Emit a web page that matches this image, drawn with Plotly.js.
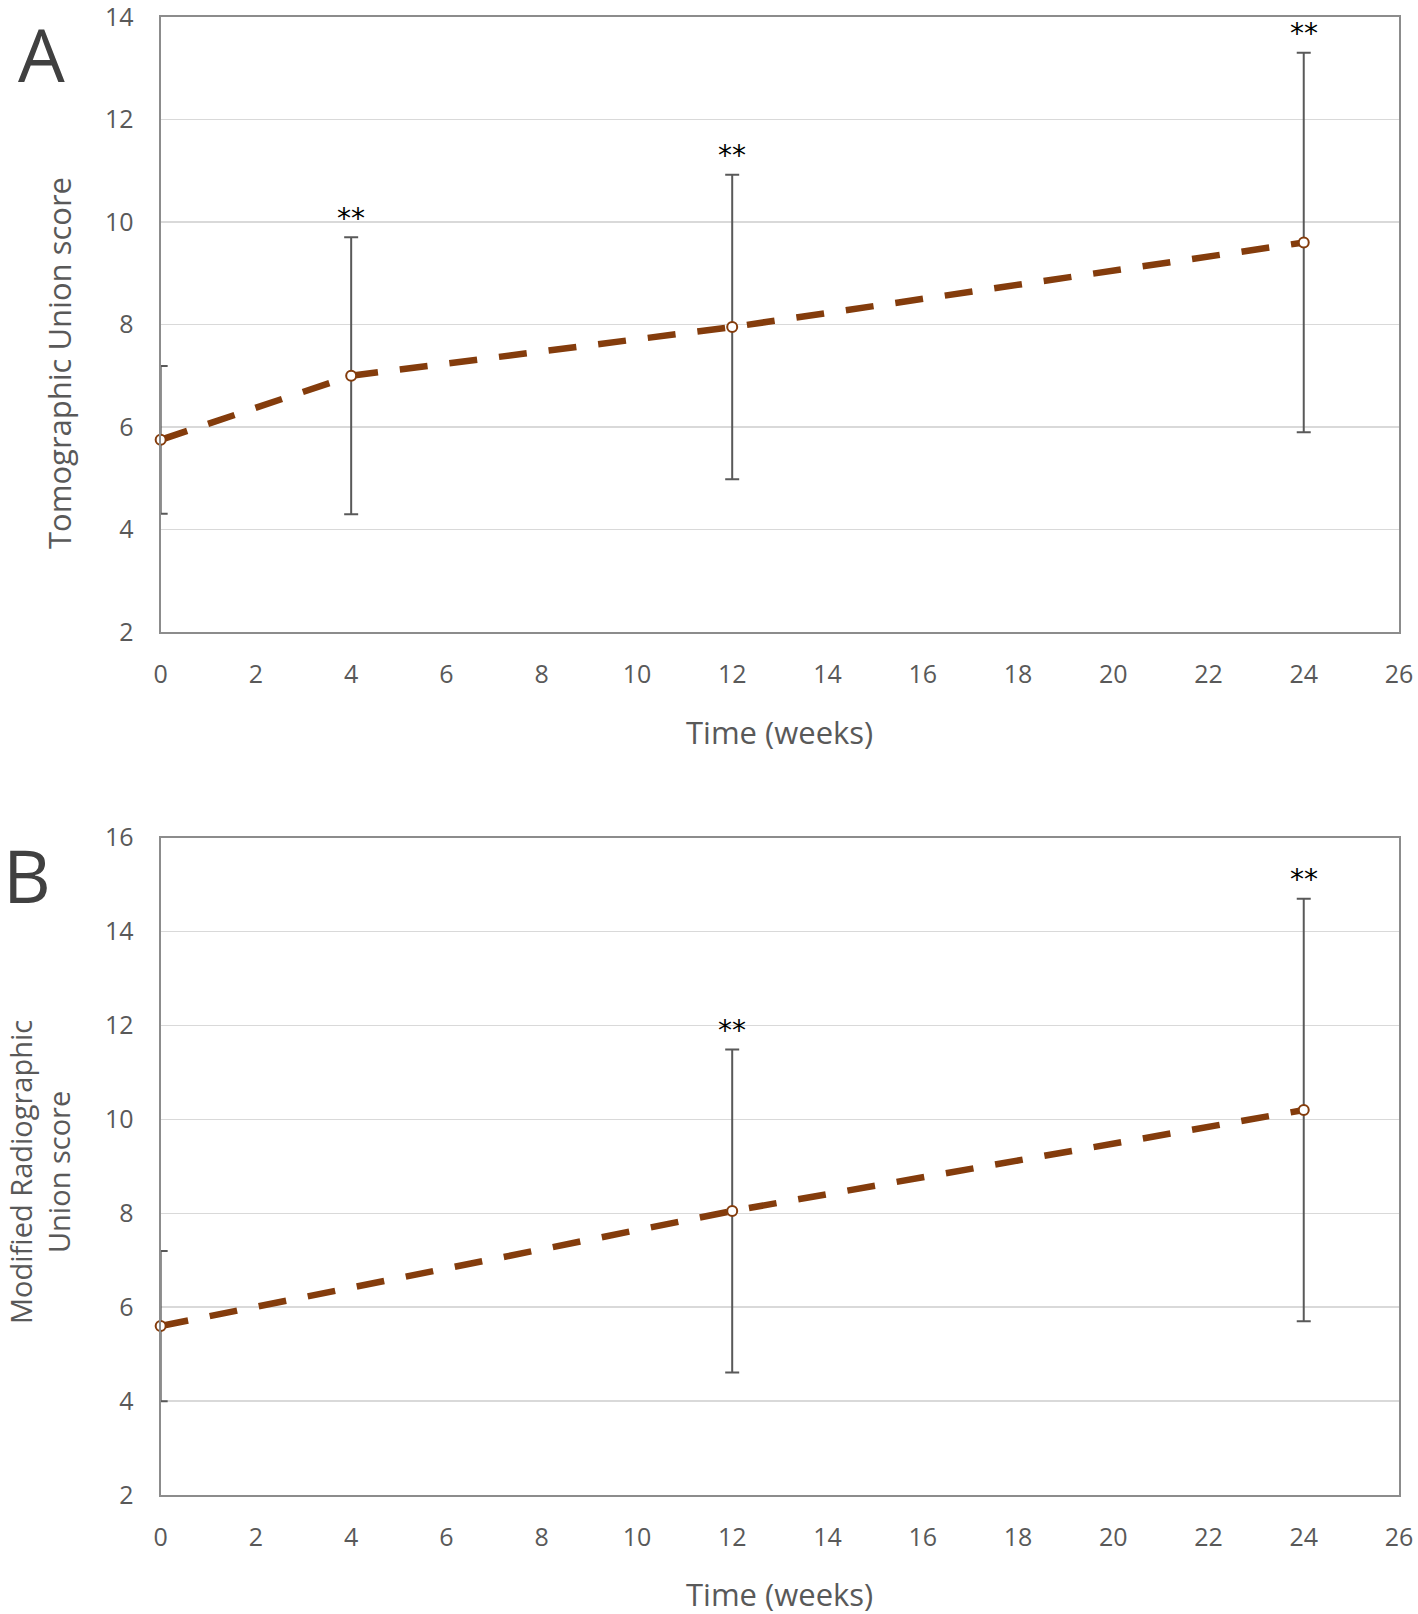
<!DOCTYPE html>
<html>
<head>
<meta charset="utf-8">
<script src="https://cdn.plot.ly/plotly-3.0.1.min.js"></script>
<style>
  body { margin: 0; background: #fff; }
  #plotArea { width: 1418px; height: 1614px; }
</style>
</head>
<body>
<div id="plotArea"></div>
<script>
// panel A - tomographic union score
var weeksA = [0, 4, 12, 24]
var tomoMean = [5.75, 7.0, 7.95, 9.6]
var tomoSD = [1.44, 2.7, 2.97, 3.7]
var tomoSig = ["", "**", "**", "**"]

// panel B - modified radiographic union score
var weeksB = [0, 12, 24]
var radMean = [5.6, 8.05, 10.2]
var radSD = [1.6, 3.44, 4.5]
var radSig = ["", "**", "**"]

var xTicks = [0, 2, 4, 6, 8, 10, 12, 14, 16, 18, 20, 22, 24, 26]
var yTicksA = [2, 4, 6, 8, 10, 12, 14]
var yTicksB = [2, 4, 6, 8, 10, 12, 14, 16]

var brown = "#843C0C"
var gray = "#595959"
var font = "Open Sans, Noto Sans, sans-serif"

function lineTrace(x, y, sd, xa, ya) {
    return {
        x: x, y: y,
        xaxis: xa, yaxis: ya,
        type: "scatter",
        mode: "lines+markers",
        cliponaxis: false,
        line: { color: brown, width: 6.5, dash: "28px,22px" },
        marker: { symbol: "circle", size: 10, color: "#fff", line: { color: brown, width: 2 } },
        error_y: { type: "data", array: sd, visible: true, color: gray, thickness: 2, width: 7 },
        showlegend: false,
        hoverinfo: "x+y"
    }
}

var data = [
    lineTrace(weeksA, tomoMean, tomoSD, "x", "y"),
    lineTrace(weeksB, radMean, radSD, "x2", "y2")
]

function xAxis(anchor) {
    return {
        anchor: anchor,
        domain: [0.1133, 0.9866],
        range: [0, 26],
        tickvals: xTicks,
        ticktext: xTicks.map(String),
        showgrid: false,
        zeroline: false,
        showline: true, mirror: true,
        linecolor: "#8c8c8c", linewidth: 2,
        ticks: "",
        ticklabelstandoff: 19,
        ticklabeloverflow: "allow",
        tickfont: { family: font, size: 25, color: gray }
    }
}

function yAxis(anchor, domain, range, vals) {
    return {
        anchor: anchor,
        domain: domain,
        range: range,
        tickvals: vals,
        ticktext: vals.map(String),
        showgrid: true, gridcolor: "#d9d9d9", gridwidth: 1.5,
        zeroline: false,
        showline: true, mirror: true,
        linecolor: "#8c8c8c", linewidth: 2,
        ticks: "",
        ticklabelstandoff: 20,
        ticklabeloverflow: "allow",
        tickfont: { family: font, size: 25, color: gray }
    }
}

// significance stars above each error bar
var stars = []
weeksA.forEach(function (w, i) {
    if (tomoSig[i]) stars.push({ x: w, y: tomoMean[i] + tomoSD[i], xref: "x", yref: "y", text: tomoSig[i] })
})
weeksB.forEach(function (w, i) {
    if (radSig[i]) stars.push({ x: w, y: radMean[i] + radSD[i], xref: "x2", yref: "y2", text: radSig[i] })
})
stars = stars.map(function (s) {
    s.showarrow = false
    s.yanchor = "middle"
    s.yshift = 19
    s.font = { family: "DejaVu Sans, sans-serif", size: 28, color: "#000" }
    return s
})

var labels = [
    { x: 41, y: 54, text: "A", font: { family: font, size: 74, color: "#404040" } },
    { x: 27, y: 875, text: "B", font: { family: font, size: 74, color: "#404040" } },
    { x: 59, y: 363, text: "Tomographic Union score", textangle: -90, font: { family: font, size: 31, color: gray } },
    { x: 39, y: 1172, text: "Modified Radiographic<br>Union score", textangle: -90, font: { family: font, size: 29, color: gray } },
    { x: 779, y: 732, text: "Time (weeks)", font: { family: font, size: 31, color: gray } },
    { x: 779, y: 1594, text: "Time (weeks)", font: { family: font, size: 31, color: gray } }
].map(function (a) {
    a.xref = "paper"; a.yref = "paper"
    a.x = a.x / 1418
    a.y = 1 - a.y / 1614
    a.xanchor = "center"; a.yanchor = "middle"
    a.showarrow = false
    return a
})

var layout = {
    width: 1418,
    height: 1614,
    margin: { l: 0, r: 0, t: 0, b: 0 },
    paper_bgcolor: "#fff",
    plot_bgcolor: "#fff",
    xaxis: xAxis("y"),
    yaxis: yAxis("x", [0.6084, 0.9895], [2, 14], yTicksA),
    xaxis2: xAxis("y2"),
    yaxis2: yAxis("x2", [0.0737, 0.4810], [2, 16], yTicksB),
    annotations: stars.concat(labels)
}

Plotly.newPlot("plotArea", data, layout, { staticPlot: true })
</script>
</body>
</html>
